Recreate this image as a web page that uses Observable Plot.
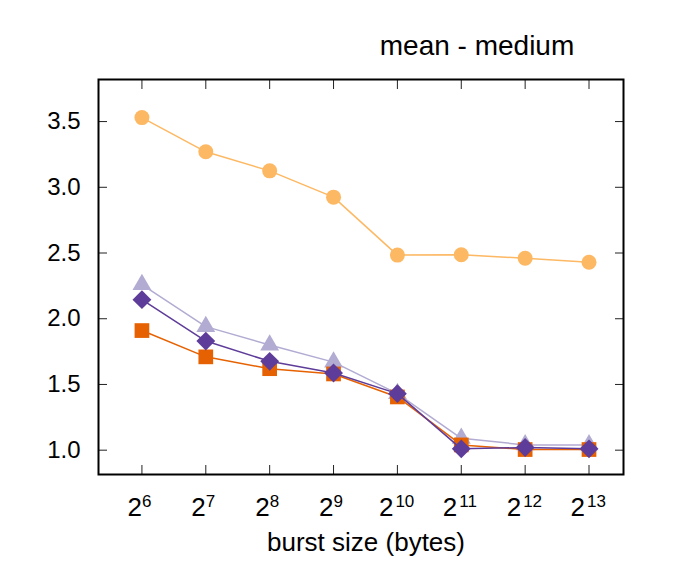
<!DOCTYPE html>
<html>
<head>
<meta charset="utf-8">
<script src="https://cdn.jsdelivr.net/npm/d3@7"></script>
<script src="https://cdn.jsdelivr.net/npm/@observablehq/plot@0.6"></script>
<style>
  html, body { margin: 0; padding: 0; background: #fff; }
  svg { display: block; }
</style>
</head>
<body>
<div id="chart"></div>
<script>
const exponents = [6, 7, 8, 9, 10, 11, 12, 13];
const circleSeries = [3.53, 3.27, 3.125, 2.925, 2.484, 2.487, 2.46, 2.43];
const triangleSeries = [2.26, 1.94, 1.80, 1.67, 1.43, 1.09, 1.04, 1.04];
const squareSeries = [1.91, 1.71, 1.62, 1.58, 1.405, 1.04, 1.005, 1.005];
const diamondSeries = [2.145, 1.83, 1.676, 1.587, 1.43, 1.01, 1.02, 1.01];
const yTicks = [1.0, 1.5, 2.0, 2.5, 3.0, 3.5];
const titleText = "mean - medium";
const xLabelText = "burst size (bytes)";

const font = "'Liberation Sans', Arial, Helvetica, sans-serif";

function rows(vals) { return exponents.map((e, i) => ({x: e, y: vals[i]})); }
const circles = rows(circleSeries);
const triangles = rows(triangleSeries);
const squares = rows(squareSeries);
const diamonds = rows(diamondSeries);

const oneDigit = exponents.filter(e => e < 10);
const twoDigit = exponents.filter(e => e >= 10);

const tickLen = 9;

const plot = Plot.plot({
  width: 677,
  height: 564,
  marginLeft: 98,
  marginRight: 54,
  marginTop: 79,
  marginBottom: 90,
  style: {fontFamily: font, background: "#fff", color: "#000"},
  x: {type: "linear", domain: [5.32, 13.54]},
  y: {type: "linear", domain: [0.815, 3.82]},
  marks: [
    Plot.axisY(yTicks, {anchor: "left", tickSize: 0, tickPadding: 18, fontSize: 24, tickFormat: d3.format(".1f"), label: null}),
    Plot.axisY(yTicks, {anchor: "left", tickSize: tickLen, dx: tickLen, text: null, label: null, stroke: "#222"}),
    Plot.axisY(yTicks, {anchor: "right", tickSize: tickLen, dx: -tickLen, text: null, label: null, stroke: "#222"}),
    Plot.axisX(exponents, {anchor: "bottom", tickSize: tickLen, dy: -tickLen, text: null, label: null, stroke: "#222"}),
    Plot.axisX(exponents, {anchor: "top", tickSize: tickLen, dy: tickLen, text: null, label: null, stroke: "#222"}),
    Plot.text(oneDigit, {x: d => d, text: () => "2", frameAnchor: "bottom", dy: 41, lineAnchor: "bottom", textAnchor: "end", fontSize: 26, dx: 0}),
    Plot.text(oneDigit, {x: d => d, text: d => String(d), frameAnchor: "bottom", dy: 32, lineAnchor: "bottom", textAnchor: "start", fontSize: 17, dx: 0}),
    Plot.text(twoDigit, {x: d => d, text: () => "2", frameAnchor: "bottom", dy: 41, lineAnchor: "bottom", textAnchor: "end", fontSize: 26, dx: -4}),
    Plot.text(twoDigit, {x: d => d, text: d => String(d), frameAnchor: "bottom", dy: 32, lineAnchor: "bottom", textAnchor: "start", fontSize: 17, dx: -2}),
    Plot.text([xLabelText], {frameAnchor: "bottom", text: d => d, dy: 76, dx: 5, lineAnchor: "bottom", fontSize: 26}),
    Plot.text([titleText], {frameAnchor: "top", text: d => d, dy: -25, dx: 116, lineAnchor: "bottom", fontSize: 28}),
    Plot.line(circles, {x: "x", y: "y", stroke: "#fdb863", strokeWidth: 1.5}),
    Plot.dot(circles, {x: "x", y: "y", r: 7.5, fill: "#fdb863", symbol: "circle"}),
    Plot.line(triangles, {x: "x", y: "y", stroke: "#b2abd2", strokeWidth: 1.5}),
    Plot.dot(triangles, {x: "x", y: "y", r: 7, fill: "#b2abd2", symbol: "triangle"}),
    Plot.line(squares, {x: "x", y: "y", stroke: "#e66101", strokeWidth: 1.5}),
    Plot.dot(squares, {x: "x", y: "y", r: 8.3, fill: "#e66101", symbol: "square"}),
    Plot.line(diamonds, {x: "x", y: "y", stroke: "#5e3c99", strokeWidth: 1.5}),
    Plot.dot(diamonds, {x: "x", y: "y", r: 8.5, fill: "#5e3c99", symbol: "diamond2"}),
    Plot.frame({stroke: "#000", strokeWidth: 2})
  ]
});
document.getElementById("chart").appendChild(plot);
</script>
</body>
</html>
